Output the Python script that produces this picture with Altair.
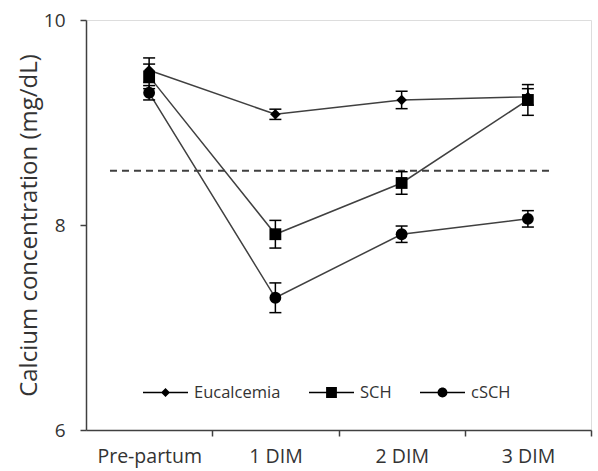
import altair as alt
import pandas as pd

categories = ["Pre-partum", "1 DIM", "2 DIM", "3 DIM"]
series_names = ["Eucalcemia", "SCH", "cSCH"]
eucalcemia_mean = [9.51, 9.08, 9.22, 9.25]
eucalcemia_err = [0.12, 0.05, 0.085, 0.08]
sch_mean = [9.45, 7.91, 8.41, 9.22]
sch_err = [0.12, 0.135, 0.11, 0.15]
csch_mean = [9.29, 7.29, 7.91, 8.06]
csch_err = [0.07, 0.145, 0.08, 0.08]
threshold = [8.53]
threshold_span = [-0.31, 3.175]
y_ticks = [6, 8, 10]

means = {"Eucalcemia": eucalcemia_mean, "SCH": sch_mean, "cSCH": csch_mean}
errs = {"Eucalcemia": eucalcemia_err, "SCH": sch_err, "cSCH": csch_err}

rows = []
for s in series_names:
    for i, c in enumerate(categories):
        m = means[s][i]
        e = errs[s][i]
        rows.append({"series": s, "category": c, "idx": i, "mean": m,
                     "lo": m - e, "hi": m + e})
df = pd.DataFrame(rows)
thr_df = pd.DataFrame({"y": threshold, "x1": [threshold_span[0]], "x2": [threshold_span[1]]})

TXT = "#333333"
LINE = "#404040"
FONT = "Open Sans"

cat_js = "[" + ",".join("'" + c + "'" for c in categories) + "]"

xscale = alt.Scale(domain=[-0.5, 3.5], nice=False, zero=False)
yscale = alt.Scale(domain=[6, 10], nice=False, zero=False)

x_axis = alt.Axis(
    values=[0.5, 1.5, 2.5, 3.5], title=None, grid=False,
    labelExpr=cat_js + "[floor(datum.value)]",
    labelOffset=-63, labelFlush=False, labelOverlap=False, labelBound=False,
    tickSize=6, tickColor=LINE, tickWidth=1.5,
    domainColor=LINE, domainWidth=1.5,
    labelFont=FONT, labelFontSize=19.5, labelColor=TXT, labelPadding=11,
)
y_axis = alt.Axis(
    values=y_ticks, title="Calcium concentration (mg/dL)", grid=False,
    format="d",
    labelFlush=False, labelOverlap=False,
    tickSize=6, tickColor=LINE, tickWidth=1.5,
    domainColor=LINE, domainWidth=1.5,
    labelFont=FONT, labelFontSize=19, labelColor=TXT, labelPadding=15,
    titleFont=FONT, titleFontSize=24, titleFontWeight="normal", titleColor=TXT,
    titlePadding=2,
)

base = alt.Chart(df)

lines = base.mark_line(color=LINE, strokeWidth=1.5).encode(
    x=alt.X("idx:Q", scale=xscale, axis=x_axis),
    y=alt.Y("mean:Q", scale=yscale, axis=y_axis),
    detail="series:N",
)

bars = base.mark_rule(color="black", strokeWidth=1.5).encode(
    x="idx:Q", y="lo:Q", y2="hi:Q"
)
cap_hi = base.mark_rule(color="black", strokeWidth=1.5, xOffset=-6, x2Offset=6).encode(
    x="idx:Q", x2="idx:Q", y="hi:Q"
)
cap_lo = base.mark_rule(color="black", strokeWidth=1.5, xOffset=-6, x2Offset=6).encode(
    x="idx:Q", x2="idx:Q", y="lo:Q"
)

shapes = {"Eucalcemia": ("diamond", 110), "SCH": ("square", 140), "cSCH": ("circle", 140)}
point_layers = []
for s in series_names:
    shp, sz = shapes[s]
    point_layers.append(
        base.transform_filter(alt.datum.series == s).mark_point(
            shape=shp, size=sz, filled=True, color="black", opacity=1
        ).encode(x="idx:Q", y="mean:Q")
    )

thr = alt.Chart(thr_df).mark_rule(color=LINE, strokeWidth=2, strokeDash=[7, 5]).encode(
    x="x1:Q", x2="x2:Q", y="y:Q"
)

BAR = "M-1,-0.035H1V0.035H-1Z"
legend_paths = [
    BAR + "M-0.2,0L0,-0.2L0.2,0L0,0.2Z",
    BAR + "M-0.24,-0.24H0.24V0.24H-0.24Z",
    BAR + "M0.22,0A0.22,0.22 0 1,1 -0.22,0A0.22,0.22 0 1,1 0.22,0Z",
]
legend_layer = base.transform_filter(alt.datum.series == "none").mark_point(
    filled=True, color="black", opacity=1
).encode(
    x="idx:Q", y="mean:Q",
    shape=alt.Shape(
        "series:N",
        scale=alt.Scale(domain=series_names, range=legend_paths),
        legend=alt.Legend(
            title=None, orient="none", direction="horizontal",
            legendX=56, legendY=349,
            symbolSize=2025, symbolFillColor="#202020", symbolOpacity=1,
            labelFont=FONT, labelFontSize=16.5, labelColor=TXT, labelOffset=5,
            columnPadding=25,
        ),
    ),
)

chart = alt.layer(
    thr, lines, bars, cap_hi, cap_lo, *point_layers, legend_layer
).properties(
    width=505, height=410,
    autosize=alt.AutoSizeParams(type="none"),
    padding={"left": 86, "top": 20, "right": 7, "bottom": 41},
).configure_view(stroke=None).configure(background="white")

chart.save("out.html", embed_options={"renderer": "svg", "actions": False})
